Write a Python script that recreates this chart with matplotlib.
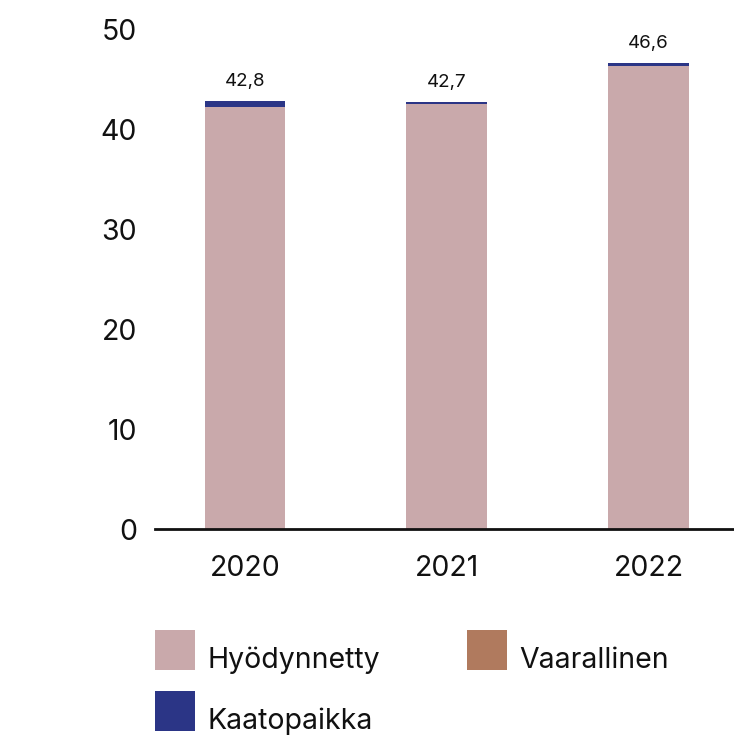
"""plot.py — waste by treatment, 2020-2022"""
import matplotlib
matplotlib.use("Agg")
import matplotlib.pyplot as plt
from matplotlib.patches import Rectangle
import numpy as np

years       = ["2020", "2021", "2022"]
hyodynnetty = [42.2, 42.5, 46.3]
vaarallinen = [0.0, 0.0, 0.0]
kaatopaikka = [0.6, 0.2, 0.3]
totals      = [42.8, 42.7, 46.6]

C_HYOD  = "#c9a9ab"
C_VAAR  = "#b07a5e"
C_KAATO = "#2b3586"

plt.rcParams["font.family"] = ["Inter", "DejaVu Sans"]
FS = 20.5

W, H = 734, 738
fig = plt.figure(figsize=(W / 100, H / 100), dpi=100)
ax = fig.add_axes([155 / W, (H - 529) / H, (W - 155) / W, 500 / H])

x = np.arange(len(years))
bw = 0.40
hy = np.array(hyodynnetty); va = np.array(vaarallinen); ka = np.array(kaatopaikka)
ax.bar(x, hy, bw, color=C_HYOD)
ax.bar(x, va, bw, bottom=hy, color=C_VAAR)
ax.bar(x, ka, bw, bottom=hy + va, color=C_KAATO)

for xi, t in zip(x, totals):
    ax.text(xi, t + 1.1, f"{t:.1f}".replace(".", ","), ha="center", va="bottom",
            fontsize=13.5, color="#111111")

ax.set_xlim(-0.446, 2.424)
ax.set_ylim(0, 50)
ax.set_yticks(range(0, 51, 10))
ax.set_xticks(x, years)
ax.tick_params(axis="both", length=0, labelsize=FS, colors="#111111")
ax.tick_params(axis="y", pad=13)
ax.tick_params(axis="x", pad=19)
for s in ["left", "right", "top"]:
    ax.spines[s].set_visible(False)
ax.spines["bottom"].set_linewidth(2)
ax.spines["bottom"].set_color("#111111")

# legend, drawn by hand to match the layout
items = [("Hyödynnetty", C_HYOD, 155, 630),
         ("Vaarallinen", C_VAAR, 467, 630),
         ("Kaatopaikka", C_KAATO, 155, 691)]
for label, col, px, py in items:
    fig.add_artist(Rectangle((px / W, (H - py - 40) / H), 40 / W, 40 / H,
                             transform=fig.transFigure, color=col, lw=0))
    fig.text((px + 52) / W, (H - py - 30) / H, label, fontsize=FS,
             color="#111111", va="center", ha="left")

fig.savefig("out.png", dpi=100)
